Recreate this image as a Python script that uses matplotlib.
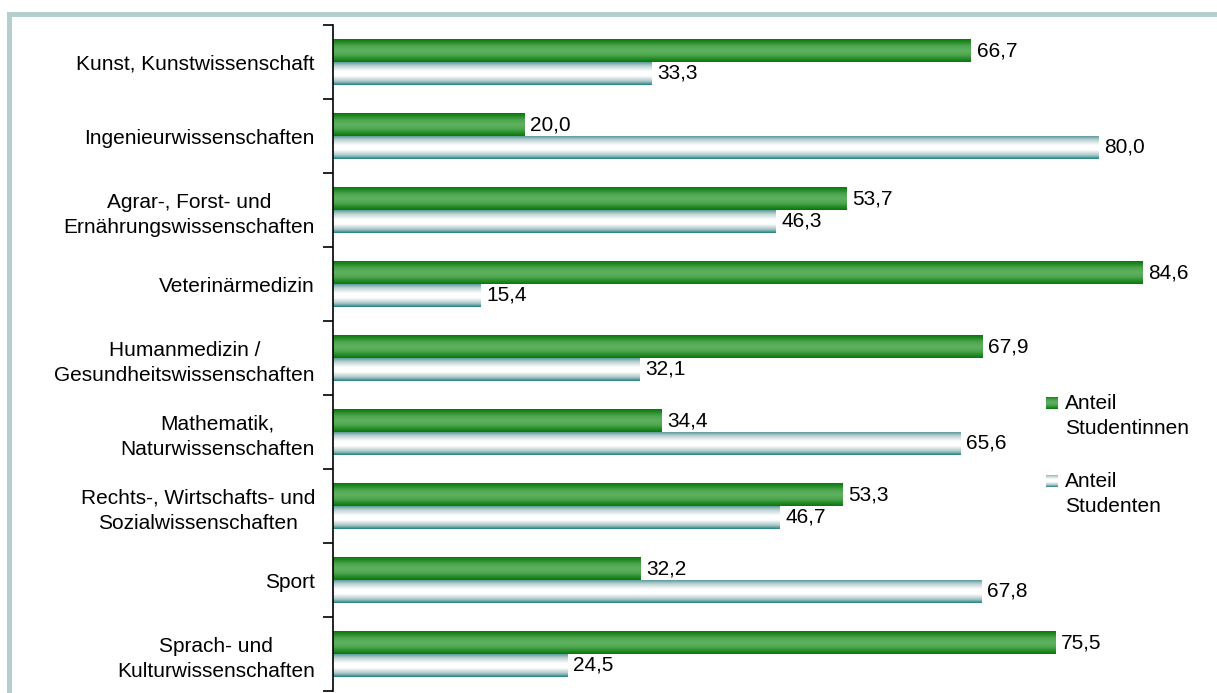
import matplotlib.pyplot as plt
import numpy as np
from matplotlib.patches import Rectangle
from matplotlib.colors import LinearSegmentedColormap

plt.rcParams['font.family'] = ['Liberation Sans', 'DejaVu Sans']

# Data (top to bottom)
categories = [
    'Kunst, Kunstwissenschaft',
    'Ingenieurwissenschaften',
    'Agrar-, Forst- und\nErnährungswissenschaften',
    'Veterinärmedizin',
    'Humanmedizin /\nGesundheitswissenschaften',
    'Mathematik,\nNaturwissenschaften',
    'Rechts-, Wirtschafts- und\nSozialwissenschaften',
    'Sport',
    'Sprach- und\nKulturwissenschaften',
]
anteil_studentinnen = [66.7, 20.0, 53.7, 84.6, 67.9, 34.4, 53.3, 32.2, 75.5]
anteil_studenten = [33.3, 80.0, 46.3, 15.4, 32.1, 65.6, 46.7, 67.8, 24.5]
series_labels = ['Anteil\nStudentinnen', 'Anteil\nStudenten']

FS = 15
LS = 1.42

# gradient colour maps (top edge -> middle -> bottom edge)
green_cmap = LinearSegmentedColormap.from_list(
    'g', [(0, '#07770b'), (0.3, '#4ea64f'), (0.5, '#5fb260'), (0.7, '#4ea64f'), (1, '#07770b')])
white_cmap = LinearSegmentedColormap.from_list(
    'w', [(0, '#5f9c9c'), (0.15, '#b9cfcf'), (0.4, '#ffffff'), (0.6, '#ffffff'),
          (0.85, '#a9c4c4'), (1, '#1f8282')])
cmaps = [green_cmap, white_cmap]

fig = plt.figure(figsize=(12.17, 6.93), dpi=100)
W, H = 1217, 693
ax = fig.add_axes([333 / W, 1 - 691 / H, (90 * 9.563) / W, 666 / H])

n = len(categories)
y = np.arange(n)
h = 0.31
bars_f = ax.barh(y - h / 2, anteil_studentinnen, height=h, color='none')
bars_m = ax.barh(y + h / 2, anteil_studenten, height=h, color='none')

grad = np.linspace(0, 1, 64).reshape(-1, 1)
for bars, cmap in zip([bars_f, bars_m], cmaps):
    for p in bars:
        x0, y0 = p.get_x(), p.get_y()
        ax.imshow(grad, cmap=cmap, aspect='auto', interpolation='bilinear',
                  extent=(x0, x0 + p.get_width(), y0 + p.get_height(), y0), zorder=2)

for bars, vals in [(bars_f, anteil_studentinnen), (bars_m, anteil_studenten)]:
    for p, v in zip(bars, vals):
        ax.text(p.get_width() + 0.6, p.get_y() + p.get_height() / 2,
                f'{v:.1f}'.replace('.', ','), va='center', ha='left', fontsize=FS)

ax.set_xlim(0, 90)
ax.set_ylim(n - 0.5, -0.5)
for s in ['top', 'right', 'bottom']:
    ax.spines[s].set_visible(False)
ax.spines['left'].set_linewidth(1.2)
ax.set_xticks([])
ax.set_yticks(y)
ax.set_yticklabels(categories, fontsize=FS, ha='right', multialignment='center',
                   linespacing=LS)
ax.tick_params(axis='y', which='major', length=0, pad=13)
ax.set_yticks(np.arange(n + 1) - 0.5, minor=True)
ax.tick_params(axis='y', which='minor', length=7, width=1.2, direction='out')

# legend (marker aligned with first text line, as in the original)
legend_tops = [397, 475]
for label, cmap, top in zip(series_labels, cmaps, legend_tops):
    lax = fig.add_axes([1046 / W, 1 - (top + 12) / H, 12 / W, 12 / H])
    lax.imshow(grad, cmap=cmap, aspect='auto', interpolation='bilinear')
    lax.axis('off')
    fig.text(1065 / W, 1 - (top - 3) / H, label, fontsize=FS, va='top', ha='left',
             linespacing=LS)

# decorative frame
fig.patches.append(Rectangle((7 / W, 1 - 17 / H), 1, 5 / H, transform=fig.transFigure,
                             facecolor='#b4cfce', edgecolor='none', zorder=0))
fig.patches.append(Rectangle((7 / W, 0), 5 / W, 1 - 12 / H, transform=fig.transFigure,
                             facecolor='#b4cfce', edgecolor='none', zorder=0))

fig.savefig('out.png', dpi=100)
plt.close(fig)
